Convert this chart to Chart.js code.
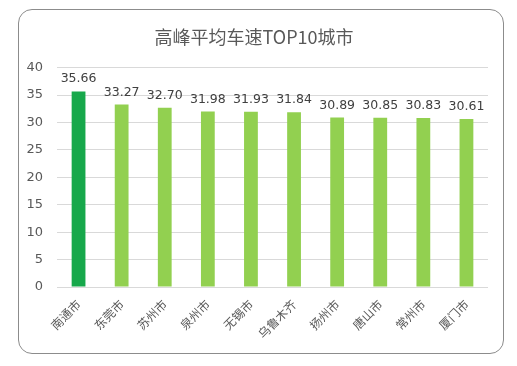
<!DOCTYPE html>
<html>
<head>
<meta charset="UTF-8">
<title>高峰平均车速TOP10城市</title>
<script src="https://cdn.jsdelivr.net/npm/chart.js@4/dist/chart.umd.min.js"></script>
<style>
	html,body{margin:0;padding:0;background:#fff;}
	#box{position:absolute;left:18px;top:9px;width:484px;height:343px;border:1px solid #8c8c8c;border-radius:14px;}
	#wrap{position:absolute;left:0;top:0;width:517px;height:366px;}
</style>
</head>
<body>
<div id="box"></div>
<div id="wrap"><canvas id="myChart" width="517" height="366"></canvas></div>
<script>
	var cities = ["南通市", "东莞市", "苏州市", "泉州市", "无锡市", "乌鲁木齐", "扬州市", "唐山市", "常州市", "厦门市"];
	var speeds = [35.66, 33.27, 32.70, 31.98, 31.93, 31.84, 30.89, 30.85, 30.83, 30.61];
	var yTicks = [0, 5, 10, 15, 20, 25, 30, 35, 40];

	//柱子颜色，第一名深绿
	var colors = speeds.map(function(v, i){ return i == 0 ? "#17a84b" : "#92d050"; });

	//柱顶数值
	var valueLabels = {
		id: "valueLabels",
		afterDatasetsDraw: function(chart){
			var ctx = chart.ctx;
			var meta = chart.getDatasetMeta(0);
			ctx.save();
			ctx.font = "12.5px 'DejaVu Sans'";
			ctx.fillStyle = "#404040";
			ctx.textAlign = "center";
			ctx.textBaseline = "bottom";
			meta.data.forEach(function(bar, i){
				ctx.fillText(speeds[i].toFixed(2), bar.x, bar.y - 6);
			});
			ctx.restore();
		}
	};

	var ctx = document.getElementById("myChart").getContext("2d");
	var myChart = new Chart(ctx, {
		type: "bar",
		data: {
			labels: cities,
			datasets: [{
				data: speeds,
				backgroundColor: colors,
				barPercentage: 0.32,
				categoryPercentage: 1
			}]
		},
		options: {
			responsive: false,
			animation: false,
			layout: {padding: {left: 20, right: 29, top: 26, bottom: 10}},
			plugins: {
				legend: {display: false},
				tooltip: {enabled: false},
				title: {
					display: true,
					text: "高峰平均车速TOP10城市",
					color: "#595959",
					font: {family: "'Noto Sans CJK SC'", size: 18, weight: "normal"},
					padding: {top: 0, bottom: 20}
				}
			},
			scales: {
				x: {
					grid: {display: false},
					border: {display: false},
					ticks: {
						color: "#595959",
						font: {family: "'Noto Sans CJK SC'", size: 12},
						minRotation: 45,
						maxRotation: 45,
						padding: 2
					},
					afterFit: function(axis){ axis.height = 69; }
				},
				y: {
					min: 0,
					max: 40,
					afterBuildTicks: function(axis){ axis.ticks = yTicks.map(function(v){ return {value: v}; }); },
					grid: {color: "#d9d9d9", drawTicks: false},
					border: {display: false},
					ticks: {
						color: "#595959",
						font: {family: "'DejaVu Sans'", size: 13},
						padding: 14
					},
					afterFit: function(axis){ axis.width = 37; }
				}
			}
		},
		plugins: [valueLabels]
	});
</script>
</body>
</html>
